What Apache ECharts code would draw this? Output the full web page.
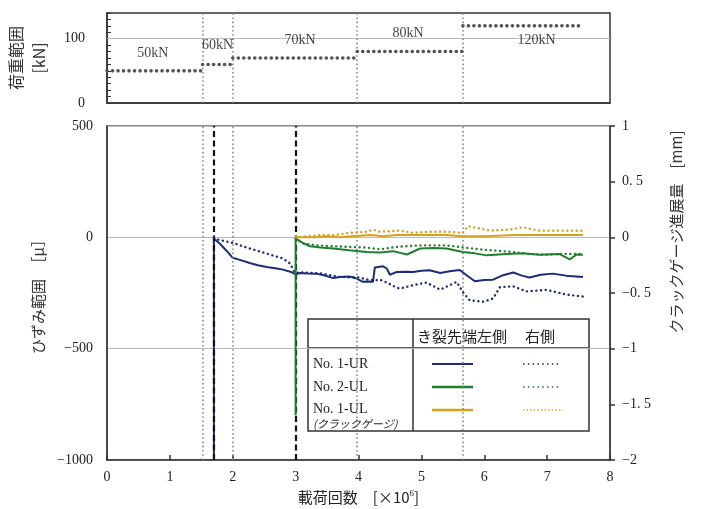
<!DOCTYPE html>
<html>
<head>
<meta charset="utf-8">
<script src="https://cdn.jsdelivr.net/npm/echarts@6/dist/echarts.min.js"></script>
<style>
html, body { margin: 0; padding: 0; background: #fff; }
#chart { width: 701px; height: 509px; }
</style>
</head>
<body>
<div id="chart"></div>
<script>
// 荷重範囲 (上段)
var loadBounds = [0, 1.52, 2.0, 3.98, 5.66, 7.57];
var loadValues = [50, 60, 70, 80, 120];
var loadLabels = ['50kN', '60kN', '70kN', '80kN', '120kN'];
var loadLabelAt = [[0.73, 78], [1.76, 90], [3.07, 98], [4.79, 109], [6.83, 97]];
// き裂発生
var crackStarts = [1.7, 3.0];

// No.1-UR [μ]
var urLeft = [[1.70, -1000], [1.70, -5], [1.80, -30], [1.90, -60], [2.00, -92], [2.10, -100], [2.27, -115], [2.40, -125],
  [2.54, -133], [2.70, -140], [2.80, -145], [2.94, -157], [3.00, -166], [3.07, -160], [3.20, -162], [3.33, -163],
  [3.45, -170], [3.60, -183], [3.70, -178], [3.86, -176], [3.97, -185], [4.07, -200], [4.15, -198], [4.23, -200],
  [4.26, -135], [4.39, -130], [4.45, -140], [4.50, -168], [4.60, -156], [4.75, -155], [4.87, -156], [5.00, -150],
  [5.13, -148], [5.30, -160], [5.45, -152], [5.61, -147], [5.72, -170], [5.85, -197], [6.00, -192], [6.14, -190],
  [6.30, -170], [6.46, -158], [6.60, -172], [6.72, -180], [6.90, -168], [7.09, -163], [7.30, -172], [7.57, -178]];
var urRight = [[1.70, -2], [1.75, -9], [2.00, -25], [2.27, -50], [2.54, -73], [2.80, -95], [2.91, -117], [2.99, -160],
  [3.10, -158], [3.40, -162], [3.70, -178], [4.00, -180], [4.15, -190], [4.26, -193], [4.34, -190], [4.45, -203],
  [4.60, -225], [4.66, -230], [4.87, -215], [5.08, -203], [5.30, -235], [5.45, -215], [5.56, -200], [5.66, -246],
  [5.77, -283], [5.98, -289], [6.14, -275], [6.25, -224], [6.46, -220], [6.67, -243], [6.99, -236], [7.31, -257], [7.57, -266]];
// No.2-UL [μ]
var ulLeft = [[3.00, -800], [3.00, -4], [3.07, -18], [3.15, -30], [3.23, -40], [3.40, -46], [3.60, -50], [3.85, -58],
  [4.13, -66], [4.34, -68], [4.55, -62], [4.77, -77], [4.98, -50], [5.20, -48], [5.40, -50], [5.66, -66], [5.85, -72],
  [6.04, -81], [6.36, -75], [6.61, -72], [6.88, -78], [7.20, -75], [7.36, -99], [7.47, -77], [7.57, -78]];
var ulRight = [[3.00, -4], [3.12, -27], [3.33, -36], [3.60, -40], [3.86, -43], [4.13, -46], [4.34, -54], [4.60, -43],
  [4.98, -36], [5.40, -36], [5.66, -45], [5.93, -54], [6.20, -60], [6.46, -66], [6.72, -75], [6.99, -78], [7.25, -74], [7.57, -75]];
// No.1-UL クラックゲージ [mm]
var gaugeLeft = [[3.00, 0.00], [3.30, 0.00], [3.50, 0.01], [3.70, 0.00], [3.90, 0.01], [4.20, 0.02], [4.40, 0.01],
  [4.60, 0.02], [5.00, 0.02], [5.40, 0.02], [5.66, 0.01], [6.00, 0.01], [6.50, 0.02], [7.00, 0.02], [7.57, 0.02]];
var gaugeRight = [[3.00, 0.00], [3.17, 0.01], [3.40, 0.02], [3.60, 0.02], [3.86, 0.04], [4.13, 0.05], [4.23, 0.07],
  [4.34, 0.05], [4.66, 0.06], [4.87, 0.04], [5.10, 0.05], [5.40, 0.05], [5.66, 0.04], [5.74, 0.10], [5.93, 0.08],
  [6.09, 0.06], [6.40, 0.07], [6.61, 0.09], [6.88, 0.06], [7.20, 0.06], [7.57, 0.06]];

var serif = "'Liberation Serif', 'Noto Sans CJK JP', serif";
var cjk = "'Noto Sans CJK JP', 'Liberation Serif', serif";
var navy = '#1c2c78', green = '#1f7f2f', gold = '#d6a21e';

function minus(v) { return v < 0 ? '\u2212' + Math.abs(v) : String(v); }

function solid(name, data, color, yIdx, z) {
  return { name: name, type: 'line', xAxisIndex: 1, yAxisIndex: yIdx, data: data, showSymbol: false, z: z,
    lineStyle: { color: color, width: 2 } };
}
function dotted(name, data, color, yIdx, z) {
  return { name: name, type: 'line', xAxisIndex: 1, yAxisIndex: yIdx, data: data, showSymbol: false, z: z,
    lineStyle: { color: color, width: 2.4, type: [0.1, 4.6], cap: 'round' } };
}

var chart = echarts.init(document.getElementById('chart'));

var loadSeries = loadValues.map(function (v, i) {
  return { type: 'line', xAxisIndex: 0, yAxisIndex: 0, showSymbol: false, z: 3,
    data: [[loadBounds[i], v], [loadBounds[i + 1], v]],
    lineStyle: { color: '#555', width: 3.6, type: [0.1, 5.4], cap: 'round' } };
});

var grayDots = { color: '#888', width: 1.6, type: [1.6, 2.6] };
var innerBounds = loadBounds.slice(1, -1);

var option = {
  animation: false,
  grid: [
    { left: 107, right: 91, top: 13, height: 90, show: true, borderColor: '#333', borderWidth: 1.5, outerBoundsMode: 'none' },
    { left: 107, right: 91, top: 126, bottom: 49, show: true, borderColor: '#666', borderWidth: 1.5, outerBoundsMode: 'none' }
  ],
  xAxis: [
    { gridIndex: 0, type: 'value', min: 0, max: 8, interval: 1, axisLabel: { show: false },
      axisTick: { show: false }, splitLine: { show: false },
      axisLine: { onZero: false, lineStyle: { color: '#333', width: 1.5 } } },
    { gridIndex: 1, type: 'value', min: 0, max: 8, interval: 1, splitLine: { show: false },
      axisLine: { onZero: false, lineStyle: { color: '#333', width: 1.5 } },
      axisTick: { inside: true, length: 5, lineStyle: { color: '#333', width: 1.5 } },
      axisLabel: { color: '#222', fontFamily: serif, fontSize: 14, margin: 10 },
      name: '載荷回数　[×10{sup|6}]', nameLocation: 'middle', nameGap: 27,
      nameTextStyle: { color: '#222', fontFamily: cjk, fontSize: 15,
        rich: { sup: { fontSize: 9, fontFamily: serif, verticalAlign: 'top', padding: [0, 0, 7, 0] } } } }
  ],
  yAxis: [
    { gridIndex: 0, type: 'value', min: 0, max: 140, interval: 10, splitLine: { show: false },
      axisLine: { onZero: false, lineStyle: { color: '#333', width: 1.5 } },
      axisTick: { inside: true, length: 4, lineStyle: { color: '#333' } },
      axisLabel: { color: '#222', fontFamily: serif, fontSize: 14, margin: 22,
        formatter: function (v) { return v % 100 === 0 ? String(v) : ''; } },
      name: '荷重範囲\n[kN]', nameLocation: 'middle', nameRotate: 90, nameGap: 57,
      nameTextStyle: { color: '#333', fontFamily: cjk, fontSize: 16, lineHeight: 23 } },
    { gridIndex: 1, type: 'value', min: -1000, max: 500, interval: 500,
      splitLine: { show: true, lineStyle: { color: '#bbb', width: 1.2 } },
      axisLine: { onZero: false, lineStyle: { color: '#333', width: 1.5 } }, axisTick: { show: false },
      axisLabel: { color: '#222', fontFamily: serif, fontSize: 14, margin: 14, formatter: minus },
      name: 'ひずみ範囲　［μ］', nameLocation: 'middle', nameRotate: 90, nameGap: 60,
      nameTextStyle: { color: '#333', fontFamily: cjk, fontSize: 15 } },
    { gridIndex: 1, type: 'value', position: 'right', min: -2, max: 1, interval: 0.5, splitLine: { show: false },
      axisLine: { show: true, onZero: false, lineStyle: { color: '#333', width: 1.5 } },
      axisTick: { show: true, length: 5, lineStyle: { color: '#333', width: 1.5 } },
      axisLabel: { color: '#222', fontFamily: serif, fontSize: 14, margin: 12,
        formatter: function (v) { return minus(v).replace('.', '. '); } } }
  ],
  series: loadSeries.concat([
    { type: 'scatter', xAxisIndex: 0, yAxisIndex: 0, symbolSize: 0, z: 4,
      data: loadLabelAt.map(function (p, i) { return { value: p, name: loadLabels[i] }; }),
      label: { show: true, position: 'inside', formatter: '{b}', color: '#111', fontFamily: serif, fontSize: 14 },
      markLine: { silent: true, z: 1, symbol: 'none', label: { show: false },
        data: [{ yAxis: 100, lineStyle: { color: '#bbb', width: 1.2, type: 'solid' } }]
          .concat(innerBounds.map(function (b) { return { xAxis: b, lineStyle: grayDots }; })) } },
    solid('No.1-UR 左', urLeft, navy, 1, 1),
    { type: 'line', xAxisIndex: 1, yAxisIndex: 1, data: [], z: 2,
      markLine: { silent: true, z: 2, symbol: 'none', label: { show: false },
        data: innerBounds.map(function (b) { return { xAxis: b, lineStyle: grayDots }; })
          .concat(crackStarts.map(function (c) {
            return { xAxis: c, lineStyle: { color: '#111', width: 2.2, type: [6, 3.5] } };
          })) } },
    dotted('No.1-UR 右', urRight, navy, 1, 4),
    dotted('No.2-UL 右', ulRight, green, 1, 4),
    solid('No.2-UL 左', ulLeft, green, 1, 10),
    dotted('No.1-UL 右', gaugeRight, gold, 2, 4),
    solid('No.1-UL 左', gaugeLeft, gold, 2, 10)
  ]),
  graphic: [
    { type: 'text', z: 20, x: 676, y: 232, rotation: Math.PI / 2,
      style: { text: 'クラックゲージ進展量　[mm]', fill: '#333', font: '15px ' + cjk, align: 'center', verticalAlign: 'middle' } },
    { type: 'group', z: 20, children: [
      { type: 'rect', shape: { x: 308, y: 319, width: 281, height: 112 },
        style: { fill: '#fff', stroke: '#333', lineWidth: 1.5 } },
      { type: 'line', shape: { x1: 308, y1: 348, x2: 589, y2: 348 }, style: { stroke: '#333', lineWidth: 1.5 } },
      { type: 'line', shape: { x1: 413, y1: 319, x2: 413, y2: 431 }, style: { stroke: '#333', lineWidth: 1.5 } },
      { type: 'text', x: 462, y: 336, style: { text: 'き裂先端左側', fill: '#222', font: '15px ' + cjk, align: 'center', verticalAlign: 'middle' } },
      { type: 'text', x: 540, y: 336, style: { text: '右側', fill: '#222', font: '15px ' + cjk, align: 'center', verticalAlign: 'middle' } },
      { type: 'text', x: 313, y: 364, style: { text: 'No. 1-UR', fill: '#222', font: '14px ' + serif, verticalAlign: 'middle' } },
      { type: 'text', x: 313, y: 387, style: { text: 'No. 2-UL', fill: '#222', font: '14px ' + serif, verticalAlign: 'middle' } },
      { type: 'text', x: 313, y: 409, style: { text: 'No. 1-UL', fill: '#222', font: '14px ' + serif, verticalAlign: 'middle' } },
      { type: 'text', x: 313, y: 424, style: { text: '(クラックゲージ)', fill: '#222', font: 'italic 11px ' + cjk, verticalAlign: 'middle' } },
      { type: 'line', shape: { x1: 432, y1: 364, x2: 473, y2: 364 }, style: { stroke: navy, lineWidth: 2 } },
      { type: 'line', shape: { x1: 432, y1: 387, x2: 473, y2: 387 }, style: { stroke: green, lineWidth: 2.4 } },
      { type: 'line', shape: { x1: 432, y1: 410, x2: 473, y2: 410 }, style: { stroke: gold, lineWidth: 2.4 } },
      { type: 'line', shape: { x1: 523, y1: 364, x2: 561, y2: 364 }, style: { stroke: navy, lineWidth: 1.6, lineDash: [1.6, 3.2] } },
      { type: 'line', shape: { x1: 523, y1: 387, x2: 561, y2: 387 }, style: { stroke: green, lineWidth: 1.6, lineDash: [1.6, 3.2] } },
      { type: 'line', shape: { x1: 523, y1: 410, x2: 563, y2: 410 }, style: { stroke: gold, lineWidth: 1.4, lineDash: [1.4, 2.2] } }
    ] }
  ]
};

chart.setOption(option);
</script>
</body>
</html>
